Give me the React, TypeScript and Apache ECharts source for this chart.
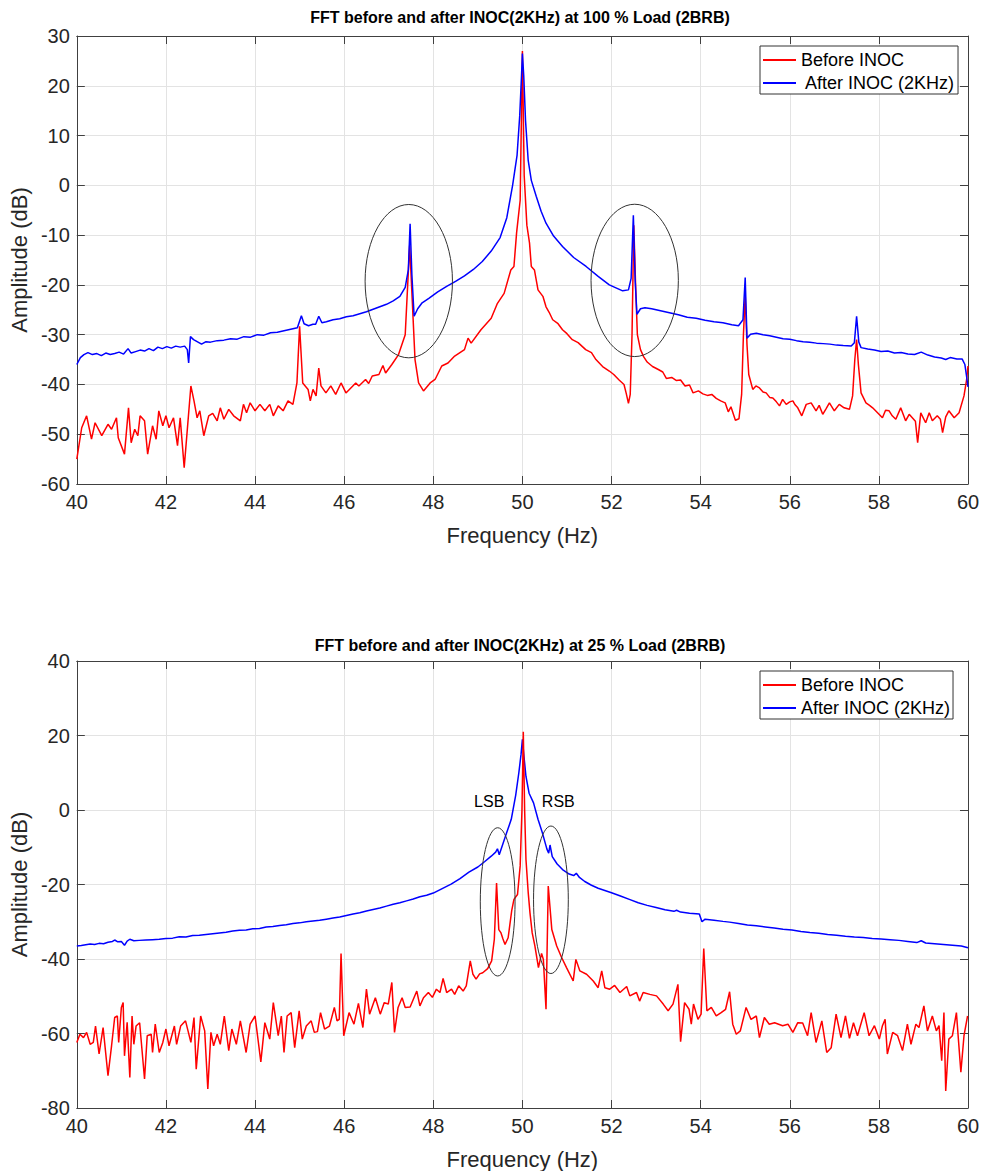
import React, { useEffect, useRef } from 'react';
import * as echarts from 'echarts';

const FONT = '"Liberation Sans", Arial, Helvetica, sans-serif';

// ---------- Titles / labels ----------
const titleTop = 'FFT before and after INOC(2KHz) at 100 % Load (2BRB)';
const titleBottom = 'FFT before and after INOC(2KHz) at 25 % Load (2BRB)';
const xName = 'Frequency (Hz)';
const yName = 'Amplitude (dB)';
const nameBefore = 'Before INOC';
const nameAfterTop = ' After INOC (2KHz)';
const nameAfterBottom = 'After INOC (2KHz)';

// ---------- Axis ranges ----------
const xRange = [40, 60, 2];
const yRangeTop = [-60, 30, 10];
const yRangeBottom = [-80, 40, 20];

// ---------- Top plot (100 % load) : [Hz, dB] ----------
const topBefore: number[][] = [
  [40.00,-55],[40.11,-48.7],[40.22,-46.3],[40.33,-51],[40.41,-47.7],[40.56,-50.3],[40.70,-48],[40.78,-49],[40.89,-46.7],[40.93,-50.7],
  [41.07,-54],[41.16,-44.7],[41.22,-51.7],[41.30,-49],[41.37,-50.3],[41.42,-46.3],[41.52,-47.3],[41.59,-54],[41.70,-48.3],[41.78,-51],
  [41.84,-45.3],[41.93,-48.3],[42.00,-46.3],[42.07,-48.7],[42.17,-46.7],[42.26,-52.3],[42.32,-46.7],[42.41,-56.7],[42.56,-40.3],[42.63,-43.3],
  [42.70,-46.7],[42.76,-45.3],[42.85,-50.3],[42.96,-46.3],[43.05,-45.8],[43.15,-47.3],[43.22,-44.7],[43.30,-47],[43.41,-45],[43.52,-46.3],
  [43.67,-47.3],[43.74,-44],[43.81,-45.7],[43.89,-43.7],[44.00,-45.3],[44.11,-44],[44.22,-45.3],[44.33,-44],[44.41,-46.3],[44.52,-44.3],
  [44.63,-45.3],[44.74,-43.3],[44.85,-44],[44.94,-39.7],[45.00,-28.3],[45.07,-39.7],[45.19,-41],[45.24,-43.3],[45.30,-41],[45.37,-42.3],
  [45.43,-36.7],[45.48,-40.3],[45.59,-41.7],[45.70,-40.3],[45.81,-42],[45.93,-39.7],[46.04,-41.7],[46.15,-40.7],[46.26,-39.7],[46.33,-40.3],
  [46.48,-39],[46.55,-39.8],[46.63,-38.3],[46.78,-38],[46.87,-36.2],[46.93,-37.7],[47.07,-36],[47.22,-34],[47.37,-30],[47.47,-12],
  [47.59,-35],[47.67,-39.7],[47.78,-41.3],[47.93,-39.7],[48.04,-39],[48.19,-36.3],[48.33,-35.7],[48.48,-34.3],[48.70,-33],[48.78,-30.7],
  [48.85,-31.7],[49.07,-29],[49.30,-26.7],[49.44,-23.7],[49.59,-21.7],[49.74,-17],[49.81,-16.3],[49.87,-9.5],[49.95,-3],[50.00,27],
  [50.04,2],[50.10,-8],[50.16,-11.6],[50.20,-16.3],[50.27,-17],[50.35,-21],[50.46,-22.3],[50.53,-24.4],[50.60,-25.5],[50.68,-27],
  [50.80,-27.8],[50.90,-29],[51.00,-29.8],[51.12,-31],[51.25,-31.6],[51.42,-33],[51.55,-33.6],[51.65,-35],[51.80,-36.4],[51.95,-37.3],
  [52.05,-38],[52.17,-39.1],[52.28,-40],[52.33,-41.8],[52.38,-43.8],[52.42,-42],[52.46,-30],[52.50,-8],[52.54,-20],[52.58,-30],
  [52.65,-33],[52.72,-34.4],[52.80,-35.5],[52.92,-36.4],[53.05,-37],[53.15,-37.5],[53.23,-38.8],[53.35,-38.6],[53.45,-39.2],[53.55,-39.1],
  [53.65,-40.3],[53.75,-40.1],[53.83,-41.7],[53.95,-41.3],[54.05,-41.9],[54.15,-42.2],[54.25,-42.0],[54.35,-42.8],[54.45,-43.3],[54.55,-43.7],
  [54.62,-45.5],[54.68,-44.5],[54.78,-47.2],[54.86,-46.9],[54.92,-42],[54.96,-30],[55.00,-22],[55.04,-32],[55.08,-38],[55.17,-41],
  [55.24,-40.3],[55.32,-40.7],[55.40,-41.5],[55.47,-41.7],[55.55,-42.6],[55.62,-42.7],[55.70,-43.5],[55.77,-44.3],[55.84,-43],[55.92,-44],
  [56.00,-43.5],[56.07,-43.3],[56.12,-44.1],[56.18,-44.7],[56.27,-46.3],[56.37,-44],[56.48,-43.7],[56.59,-45.3],[56.66,-44.2],[56.74,-46],
  [56.82,-44.8],[56.89,-43.7],[57.00,-45.3],[57.11,-44],[57.22,-44.7],[57.34,-45],[57.41,-42.3],[57.46,-35],[57.50,-31],[57.54,-36],
  [57.60,-41.7],[57.71,-43.7],[57.79,-44.2],[57.86,-44.7],[57.97,-45.7],[58.08,-46.7],[58.15,-45.2],[58.23,-45.3],[58.30,-46.3],[58.38,-47],
  [58.49,-44.7],[58.60,-47.3],[58.68,-46],[58.75,-46.7],[58.82,-47.4],[58.87,-51.7],[58.94,-45.7],[59.05,-47.7],[59.13,-45.7],[59.20,-47.3],
  [59.31,-46.3],[59.38,-47],[59.43,-49.7],[59.50,-46.5],[59.57,-45.3],[59.69,-46.7],[59.80,-45.7],[59.91,-42.3],[59.97,-39],[60.00,-36.3],
];

const topAfter: number[][] = [
  [40.00,-36.0],[40.08,-34.6],[40.16,-34.0],[40.25,-33.6],[40.35,-34.0],[40.45,-33.8],[40.55,-34.2],[40.65,-33.7],[40.75,-34.0],[40.85,-33.8],
  [40.95,-33.5],[41.05,-33.9],[41.15,-32.8],[41.22,-33.7],[41.32,-33.4],[41.42,-33.1],[41.52,-33.3],[41.62,-32.8],[41.72,-33.2],[41.82,-32.5],
  [41.92,-32.8],[42.02,-32.4],[42.12,-32.7],[42.22,-32.3],[42.32,-32.5],[42.42,-32.3],[42.48,-33.0],[42.51,-35.7],[42.55,-30.4],[42.62,-31.0],
  [42.72,-31.5],[42.80,-31.9],[42.90,-31.4],[43.00,-31.5],[43.15,-31.2],[43.30,-31.1],[43.45,-30.8],[43.60,-30.9],[43.75,-30.4],[43.90,-30.5],
  [44.05,-30.0],[44.20,-30.1],[44.35,-29.6],[44.50,-29.5],[44.65,-29.2],[44.80,-28.9],[44.95,-28.6],[45.04,-26.2],[45.10,-27.8],[45.20,-28.2],
  [45.30,-27.9],[45.36,-27.9],[45.43,-26.3],[45.50,-27.6],[45.60,-27.4],[45.75,-27.0],[45.90,-26.8],[46.05,-26.4],[46.20,-26.2],[46.35,-25.8],
  [46.50,-25.4],[46.65,-24.9],[46.80,-24.4],[46.95,-23.9],[47.10,-23.2],[47.25,-22.3],[47.37,-20.5],[47.44,-17],[47.48,-7.7],[47.52,-18],
  [47.57,-26.3],[47.65,-24.8],[47.75,-23.6],[47.90,-22.7],[48.10,-21.4],[48.30,-20.3],[48.50,-19.3],[48.70,-18.2],[48.90,-16.9],[49.10,-15.3],
  [49.30,-13.2],[49.50,-10.5],[49.65,-6.5],[49.78,0],[49.88,6],[49.94,14],[49.98,22],[50.00,26.5],[50.03,22],[50.07,13],
  [50.13,5],[50.20,1],[50.31,-2.2],[50.42,-5.2],[50.53,-7.6],[50.70,-10.2],[50.90,-12.3],[51.15,-14.5],[51.43,-16.3],[51.70,-18.3],
  [51.95,-20.0],[52.10,-20.6],[52.25,-21.2],[52.38,-21.0],[52.44,-18.7],[52.49,-6.0],[52.53,-19],[52.57,-25.9],[52.65,-24.8],[52.75,-24.6],
  [52.90,-24.8],[53.10,-25.2],[53.30,-25.6],[53.50,-26.0],[53.70,-26.5],[53.90,-26.7],[54.10,-27.1],[54.30,-27.4],[54.50,-27.6],[54.70,-28.0],
  [54.85,-28.2],[54.95,-27.0],[55.00,-18.5],[55.04,-30.7],[55.12,-29.9],[55.25,-29.7],[55.40,-30.0],[55.55,-30.2],[55.70,-30.5],[55.85,-30.8],
  [56.00,-30.9],[56.15,-31.2],[56.30,-31.4],[56.45,-31.5],[56.60,-31.7],[56.75,-31.8],[56.90,-31.9],[57.05,-32.1],[57.20,-32.2],[57.38,-32.3],
  [57.45,-31.6],[57.50,-26.3],[57.55,-31.5],[57.60,-32.6],[57.75,-32.9],[57.90,-33.1],[58.05,-33.4],[58.20,-33.3],[58.35,-33.7],[58.50,-33.6],
  [58.65,-33.9],[58.80,-34.0],[58.95,-33.5],[59.10,-34.1],[59.25,-34.5],[59.40,-34.7],[59.50,-35.0],[59.60,-34.6],[59.75,-34.9],[59.87,-34.9],
  [59.93,-36.0],[59.97,-38.5],[60.00,-40.5],
];

// ---------- Bottom plot (25 % load) : [Hz, dB] ----------
const bottomBefore: number[][] = [
  [40.00,-62.4],[40.07,-60.2],[40.15,-61.1],[40.22,-59.7],[40.30,-62.9],[40.37,-62.4],[40.42,-58.0],[40.50,-65.5],[40.59,-58.4],[40.70,-71.3],
  [40.78,-63.3],[40.85,-55.7],[40.91,-55.3],[40.94,-62.4],[41.00,-53.0],[41.04,-51.7],[41.07,-66.0],[41.13,-57.0],[41.19,-71.8],[41.24,-55.3],
  [41.28,-62.9],[41.33,-58.0],[41.41,-57.1],[41.52,-72.2],[41.58,-60.6],[41.67,-60.2],[41.70,-65.1],[41.76,-57.5],[41.85,-65.1],[41.93,-62.4],
  [42.00,-58.8],[42.07,-63.3],[42.19,-58.0],[42.24,-62.9],[42.33,-58.0],[42.44,-56.6],[42.56,-62.4],[42.63,-55.7],[42.68,-69.6],[42.78,-55.3],
  [42.87,-59.3],[42.94,-74.9],[43.01,-59.7],[43.07,-63.3],[43.15,-60.2],[43.22,-62.9],[43.31,-55.3],[43.41,-64.6],[43.48,-58.8],[43.58,-62.9],
  [43.67,-56.6],[43.80,-65.1],[43.89,-57.5],[44.00,-55.3],[44.13,-67.6],[44.22,-57.1],[44.33,-61.5],[44.41,-51.7],[44.52,-60.6],[44.59,-55.3],
  [44.65,-65.1],[44.72,-55.3],[44.81,-54.4],[44.89,-63.8],[44.99,-53.9],[45.06,-61.5],[45.15,-58.0],[45.26,-56.6],[45.33,-59.7],[45.40,-59.5],
  [45.47,-54.4],[45.56,-58.8],[45.67,-58.0],[45.78,-53.0],[45.84,-56.6],[45.89,-56.2],[45.93,-38.5],[45.99,-60.6],[46.11,-54.4],[46.22,-57.5],
  [46.32,-51.9],[46.42,-58.4],[46.50,-48.1],[46.57,-54.8],[46.70,-50.4],[46.81,-54.8],[46.90,-51.7],[46.99,-52.1],[47.07,-46.3],[47.13,-59.7],
  [47.21,-53.0],[47.30,-50.4],[47.37,-53.0],[47.48,-52.9],[47.63,-48.6],[47.70,-52.6],[47.78,-50.4],[47.89,-49.0],[47.98,-50.3],[48.07,-48.1],
  [48.15,-49.0],[48.22,-45.2],[48.30,-49.0],[48.41,-48.1],[48.48,-49.5],[48.57,-47.2],[48.67,-48.6],[48.74,-47.2],[48.83,-40.5],[48.89,-44.1],
  [48.96,-45.4],[49.04,-44.0],[49.11,-43.7],[49.22,-42.6],[49.31,-40.5],[49.37,-34.7],[49.42,-19.6],[49.47,-32.1],[49.52,-33.0],[49.56,-34.5],
  [49.61,-36.1],[49.68,-34.3],[49.76,-27.0],[49.81,-24.0],[49.89,-22.7],[49.95,-15],[49.99,0],[50.02,21],[50.05,0],[50.08,-13.3],
  [50.13,-22.1],[50.17,-27.6],[50.22,-33],[50.28,-36.5],[50.36,-42.3],[50.43,-38.5],[50.47,-40.1],[50.53,-53.5],[50.58,-20.4],[50.66,-32.1],
  [50.77,-36.5],[50.88,-39.6],[50.99,-42.3],[51.14,-45.9],[51.20,-40.1],[51.29,-43.2],[51.44,-44.1],[51.59,-45.9],[51.70,-47.7],[51.78,-43.2],
  [51.85,-47.7],[51.96,-48.1],[52.07,-47.1],[52.19,-49.0],[52.34,-47.4],[52.41,-49.9],[52.56,-49.0],[52.63,-51.3],[52.71,-49.0],[52.86,-49.5],
  [53.01,-49.9],[53.16,-52.1],[53.27,-53.9],[53.38,-52.1],[53.49,-46.8],[53.55,-62.2],[53.64,-51.7],[53.74,-53.5],[53.79,-57.5],[53.84,-52.1],
  [53.94,-56.2],[54.01,-54.8],[54.07,-37.2],[54.14,-53.9],[54.24,-53.0],[54.35,-55.3],[54.46,-54.4],[54.56,-53.5],[54.65,-48.8],[54.72,-57.5],
  [54.80,-60.2],[54.89,-59.3],[55.02,-53.0],[55.13,-56.2],[55.25,-55.3],[55.32,-61.1],[55.43,-55.7],[55.54,-57.5],[55.66,-57.1],[55.84,-57.9],
  [55.96,-57.5],[56.07,-59.7],[56.18,-57.1],[56.29,-57.2],[56.40,-60.6],[56.48,-54.4],[56.59,-62.4],[56.72,-56.6],[56.83,-65.1],[56.93,-63.8],
  [57.04,-54.8],[57.15,-61.1],[57.25,-55.3],[57.34,-61.3],[57.43,-57.1],[57.52,-60.6],[57.67,-54.4],[57.78,-60.6],[57.90,-57.9],[58.01,-61.5],
  [58.08,-57.9],[58.14,-56.2],[58.19,-65.5],[58.31,-59.7],[58.42,-60.6],[58.53,-64.6],[58.64,-57.5],[58.72,-62.9],[58.83,-57.5],[58.90,-58.4],
  [59.01,-52.6],[59.09,-59.3],[59.20,-55.3],[59.29,-59.3],[59.35,-57.9],[59.41,-67.3],[59.46,-54.4],[59.50,-75.4],[59.57,-61.5],[59.65,-60.6],
  [59.74,-54.4],[59.84,-70.4],[59.91,-60.6],[59.99,-55.3],
];

const bottomAfter: number[][] = [
  [40.00,-36.5],[40.10,-36.4],[40.20,-36.2],[40.30,-36.0],[40.40,-36.1],[40.50,-35.8],[40.60,-35.9],[40.70,-35.5],[40.80,-35.3],[40.85,-34.9],
  [40.92,-35.4],[41.00,-35.3],[41.07,-36.3],[41.13,-35.2],[41.19,-34.7],[41.28,-35.1],[41.40,-35.0],[41.55,-34.9],[41.70,-34.8],[41.85,-34.7],
  [42.00,-34.5],[42.15,-34.4],[42.30,-34.0],[42.45,-34.1],[42.60,-33.7],[42.75,-33.6],[42.90,-33.4],[43.05,-33.2],[43.20,-33.0],[43.35,-32.8],
  [43.50,-32.5],[43.65,-32.3],[43.80,-32.2],[43.95,-31.9],[44.10,-31.8],[44.25,-31.4],[44.40,-31.3],[44.55,-31.0],[44.70,-30.8],[44.85,-30.5],
  [45.00,-30.3],[45.15,-30.0],[45.30,-29.8],[45.45,-29.6],[45.60,-29.3],[45.75,-29.0],[45.90,-28.7],[46.05,-28.3],[46.20,-27.9],[46.35,-27.6],
  [46.50,-27.1],[46.65,-26.7],[46.80,-26.3],[46.95,-25.8],[47.10,-25.3],[47.25,-24.9],[47.40,-24.4],[47.55,-23.9],[47.70,-23.3],[47.85,-22.9],
  [48.00,-22.3],[48.20,-21.1],[48.40,-19.9],[48.60,-18.4],[48.80,-16.7],[49.00,-15.3],[49.15,-13.9],[49.30,-12.4],[49.40,-11.3],[49.44,-10.4],
  [49.48,-12.0],[49.55,-9.5],[49.65,-6],[49.75,-2.5],[49.85,4],[49.92,10],[49.97,15],[50.00,19],[50.03,15],[50.08,9],
  [50.15,4.5],[50.25,1.9],[50.35,-2.5],[50.45,-6.2],[50.55,-10.5],[50.59,-11.6],[50.62,-9.4],[50.67,-12.5],[50.78,-14.5],[50.90,-16.0],
  [51.05,-17.2],[51.15,-17.6],[51.21,-17.0],[51.28,-18.1],[51.40,-19.2],[51.55,-20.2],[51.70,-21.0],[51.85,-21.6],[52.00,-22.2],[52.20,-23.1],
  [52.40,-24.0],[52.60,-24.9],[52.80,-25.6],[53.00,-26.2],[53.20,-26.8],[53.40,-27.2],[53.46,-26.9],[53.55,-27.4],[53.75,-27.7],[53.97,-27.9],
  [54.03,-30.0],[54.10,-29.3],[54.30,-29.6],[54.50,-29.9],[54.65,-30.1],[54.85,-30.5],[55.05,-30.9],[55.25,-31.1],[55.45,-31.4],[55.65,-31.7],
  [55.85,-32.0],[56.05,-32.2],[56.25,-32.6],[56.45,-32.9],[56.65,-33.1],[56.85,-33.4],[57.05,-33.6],[57.25,-33.9],[57.45,-34.1],[57.65,-34.2],
  [57.85,-34.5],[58.05,-34.6],[58.25,-34.8],[58.45,-35.0],[58.65,-35.3],[58.85,-35.6],[58.95,-35.1],[59.05,-35.7],[59.25,-35.9],[59.45,-36.1],
  [59.65,-36.3],[59.85,-36.5],[60.00,-37.0],
];

// ---------- Annotations : [centre Hz, centre dB, half-width Hz, half-height dB] ----------
const topEllipses: number[][] = [[47.45, -19.25, 0.98, 15.4], [52.52, -19.1, 0.98, 15.3]];
const bottomEllipses: number[][] = [[49.445, -24.66, 0.39, 19.9], [50.64, -24.1, 0.39, 19.8]];
const sidebandNames = ['LSB', 'RSB'];
const sidebandPos: number[][] = [[49.255, 2.3], [50.805, 2.3]];

const AXIS_COLOR = '#404040';
const TEXT_COLOR = '#262626';
const GRID_COLOR = '#e3e3e3';

function makeAxes(gridIndex: number, yr: number[]) {
  const xMain = {
    type: 'value', gridIndex, min: xRange[0], max: xRange[1], interval: xRange[2],
    name: xName, nameLocation: 'middle', nameGap: 40,
    nameTextStyle: { fontSize: 22, color: TEXT_COLOR, fontFamily: FONT },
    axisLine: { show: true, onZero: false, lineStyle: { color: AXIS_COLOR, width: 1 } },
    axisTick: { show: true, inside: true, length: 8, lineStyle: { color: AXIS_COLOR } },
    axisLabel: { fontSize: 20, color: TEXT_COLOR, fontFamily: FONT, margin: 8 },
    splitLine: { show: true, lineStyle: { color: GRID_COLOR, width: 1 } },
  };
  const xTop = {
    type: 'value', gridIndex, position: 'top', min: xRange[0], max: xRange[1], interval: xRange[2],
    axisLine: { show: true, onZero: false, lineStyle: { color: AXIS_COLOR, width: 1 } },
    axisTick: { show: true, inside: true, length: 8, lineStyle: { color: AXIS_COLOR } },
    axisLabel: { show: false }, splitLine: { show: false },
  };
  const yMain = {
    type: 'value', gridIndex, min: yr[0], max: yr[1], interval: yr[2],
    name: yName, nameLocation: 'middle', nameGap: 40,
    nameTextStyle: { fontSize: 22, color: TEXT_COLOR, fontFamily: FONT },
    axisLine: { show: true, onZero: false, lineStyle: { color: AXIS_COLOR, width: 1 } },
    axisTick: { show: true, inside: true, length: 8, lineStyle: { color: AXIS_COLOR } },
    axisLabel: { fontSize: 20, color: TEXT_COLOR, fontFamily: FONT, margin: 7 },
    splitLine: { show: true, lineStyle: { color: GRID_COLOR, width: 1 } },
  };
  const yRight = {
    type: 'value', gridIndex, position: 'right', min: yr[0], max: yr[1], interval: yr[2],
    axisLine: { show: true, onZero: false, lineStyle: { color: AXIS_COLOR, width: 1 } },
    axisTick: { show: true, inside: true, length: 8, lineStyle: { color: AXIS_COLOR } },
    axisLabel: { show: false }, splitLine: { show: false },
  };
  return { x: [xMain, xTop], y: [yMain, yRight] };
}

function lineSeries(name: string, data: number[][], color: string, axis: number, z: number) {
  return {
    type: 'line', name, data, xAxisIndex: axis, yAxisIndex: axis,
    showSymbol: false, symbol: 'none', z,
    lineStyle: { color, width: 1.5 }, itemStyle: { color },
  };
}

function ellipseSeries(data: number[][], axis: number) {
  return {
    type: 'custom', xAxisIndex: axis, yAxisIndex: axis, silent: true, z: 5, data,
    renderItem: (params: any, api: any) => {
      const c = api.coord([api.value(0), api.value(1)]);
      const s = api.size([api.value(2), api.value(3)]);
      return {
        type: 'ellipse',
        shape: { cx: c[0], cy: c[1], rx: s[0], ry: s[1] },
        style: { fill: 'none', stroke: '#333333', lineWidth: 1 },
      };
    },
  };
}

function labelSeries(data: number[][], names: string[], axis: number) {
  return {
    type: 'custom', xAxisIndex: axis, yAxisIndex: axis, silent: true, z: 6, data,
    renderItem: (params: any, api: any) => {
      const c = api.coord([api.value(0), api.value(1)]);
      return {
        type: 'text', x: c[0], y: c[1],
        style: {
          text: names[params.dataIndex], fill: '#000', font: `16px ${FONT}`,
          align: 'center', verticalAlign: 'middle', textAlign: 'center', textVerticalAlign: 'middle',
        },
      };
    },
  };
}

function legendFor(names: string[], top: number) {
  return {
    data: names, orient: 'vertical', left: 760, top,
    icon: 'rect', itemWidth: 33, itemHeight: 2, itemGap: 3,
    padding: [4, 3, 1, 3],
    borderColor: '#333333', borderWidth: 1, backgroundColor: '#ffffff', borderRadius: 0,
    textStyle: { fontSize: 18, color: '#000', fontFamily: FONT, lineHeight: 20 },
    selectedMode: false,
  };
}

export default function App() {
  const ref = useRef<HTMLDivElement>(null);
  useEffect(() => {
    if (!ref.current) return;
    const chart = echarts.init(ref.current, null, { renderer: 'svg' });
    const a1 = makeAxes(0, yRangeTop);
    const a2 = makeAxes(1, yRangeBottom);
    const option: any = {
      animation: false,
      backgroundColor: '#ffffff',
      textStyle: { fontFamily: FONT },
      grid: [
        { left: 72, right: 16, top: 36, height: 448, containLabel: false },
        { left: 72, right: 16, top: 661, height: 448, containLabel: false },
      ],
      xAxis: [...a1.x, ...a2.x],
      yAxis: [...a1.y, ...a2.y],
      legend: [
        legendFor([nameBefore, nameAfterTop], 46),
        legendFor([nameBefore, nameAfterBottom], 671),
      ],
      graphic: [
        { type: 'text', x: 520, y: 9, silent: true,
          style: { text: titleTop, fill: '#000', font: `bold 16px ${FONT}`, align: 'center', textAlign: 'center', verticalAlign: 'top' } },
        { type: 'text', x: 520, y: 637, silent: true,
          style: { text: titleBottom, fill: '#000', font: `bold 16px ${FONT}`, align: 'center', textAlign: 'center', verticalAlign: 'top' } },
      ],
      series: [
        lineSeries(nameBefore, topBefore, '#ff0000', 0, 2),
        lineSeries(nameAfterTop, topAfter, '#0000ff', 0, 3),
        ellipseSeries(topEllipses, 0),
        lineSeries(nameAfterBottom, bottomAfter, '#0000ff', 2, 2),
        lineSeries(nameBefore, bottomBefore, '#ff0000', 2, 3),
        ellipseSeries(bottomEllipses, 2),
        labelSeries(sidebandPos, sidebandNames, 2),
      ],
    };
    chart.setOption(option);
    return () => chart.dispose();
  }, []);
  return (
    <div
      ref={ref}
      style={{ position: 'absolute', left: 0, top: 0, width: 984, height: 1171, background: '#fff' }}
    />
  );
}
